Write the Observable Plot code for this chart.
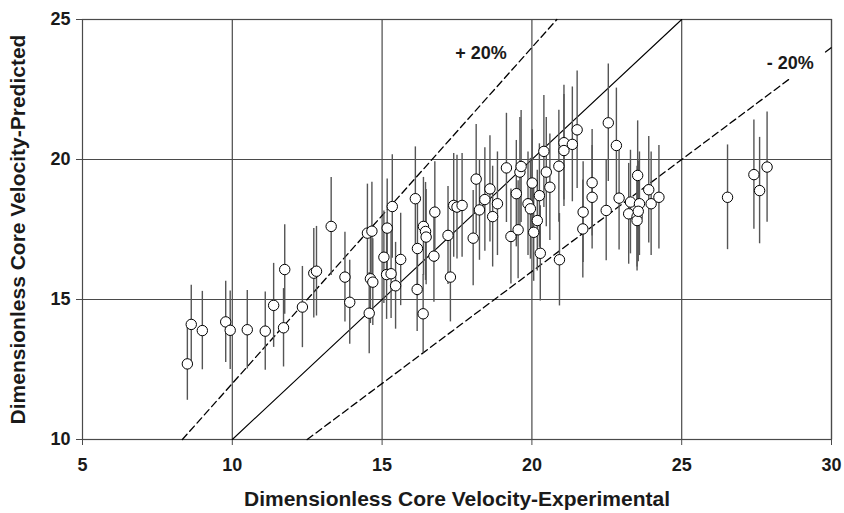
<!DOCTYPE html>
<html>
<head>
<meta charset="utf-8">
<script src="https://cdn.jsdelivr.net/npm/d3@7"></script>
<script src="https://cdn.jsdelivr.net/npm/@observablehq/plot@0.6"></script>
<style>
  html, body { margin: 0; padding: 0; background: #fff; }
  #chart svg { display: block; }
</style>
</head>
<body>
<div id="chart"></div>
<script>
// Experimental (x) and predicted (y) dimensionless core velocity, with error bar half-lengths
const expX = [8.50, 8.63, 9.00, 9.78, 9.93, 10.50, 11.10, 11.38, 11.75, 11.71, 12.34, 12.72, 12.81, 13.30, 13.76, 13.92,
  14.51, 14.66, 14.61, 14.69, 14.57, 15.17, 15.06, 15.15, 15.30, 15.34, 15.45, 15.62, 16.11, 16.18, 16.17, 16.37,
  16.38, 16.45, 16.47, 16.76, 16.73, 17.28, 17.20, 17.39, 17.50, 17.67, 18.04, 18.14, 18.25, 18.43, 18.60, 18.69,
  18.85, 19.15, 19.30, 19.48, 19.54, 19.60, 19.64, 19.87, 19.95, 20.01, 20.06, 20.25, 20.18, 20.28, 20.40, 20.48,
  20.60, 20.90, 20.92, 21.07, 21.07, 21.35, 21.51, 21.71, 21.70, 22.01, 22.01, 22.48, 22.55, 22.82, 22.91, 23.23,
  23.29, 23.51, 23.51, 23.53, 23.90, 23.59, 23.98, 24.24, 23.55, 26.53, 27.41, 27.60, 27.85];
const predY = [12.70, 14.11, 13.89, 14.20, 13.90, 13.92, 13.87, 14.79, 16.07, 13.99, 14.73, 15.94, 16.01, 17.61, 15.80, 14.90,
  17.37, 17.44, 15.74, 15.62, 14.51, 17.55, 16.51, 15.89, 15.92, 18.32, 15.49, 16.43, 18.60, 16.82, 15.36, 14.49,
  17.61, 17.43, 17.23, 18.12, 16.55, 15.80, 17.29, 18.36, 18.30, 18.36, 17.19, 19.30, 18.20, 18.57, 18.95, 17.96,
  18.42, 19.70, 17.25, 18.78, 17.49, 19.55, 19.75, 18.42, 18.24, 19.16, 17.40, 18.71, 17.82, 16.65, 20.29, 19.55,
  19.01, 19.76, 16.42, 20.60, 20.32, 20.54, 21.06, 18.12, 17.52, 19.17, 18.65, 18.18, 21.31, 20.50, 18.62, 18.06,
  18.48, 17.96, 17.82, 19.43, 18.92, 18.42, 18.42, 18.65, 18.15, 18.65, 19.46, 18.89, 19.73];
const errY = [1.30, 1.40, 1.40, 1.45, 1.40, 1.40, 1.40, 1.50, 1.60, 1.40, 1.45, 1.60, 1.60, 1.75, 1.60, 1.50,
  1.75, 1.75, 1.60, 1.55, 1.45, 1.75, 1.65, 1.60, 1.60, 1.85, 1.55, 1.65, 1.85, 1.70, 1.50, 1.40,
  1.75, 1.75, 1.70, 1.80, 1.65, 1.60, 1.75, 1.85, 1.85, 1.85, 1.70, 1.95, 1.80, 1.85, 1.90, 1.80,
  1.85, 1.95, 1.70, 1.90, 1.75, 1.95, 2.00, 1.85, 1.80, 1.90, 1.75, 1.85, 1.80, 1.70, 2.00, 1.95,
  1.90, 2.00, 1.65, 2.05, 2.00, 2.05, 2.10, 1.80, 1.75, 1.90, 1.85, 1.80, 2.10, 2.05, 1.85, 1.80,
  1.85, 1.80, 1.80, 1.95, 1.90, 1.85, 1.85, 1.85, 1.80, 1.87, 1.95, 1.90, 1.97];

// Axis ticks
const xTicks = [5, 10, 15, 20, 25, 30];
const yTicks = [10, 15, 20, 25];

// Reference lines: perfect agreement and +/-20 % bands (segment endpoints)
const perfectLine = [{x: 10, y: 10}, {x: 25, y: 25}];
const plus20Line = [{x: 8.333, y: 10}, {x: 20.833, y: 25}];
const minus20LineA = [{x: 12.5, y: 10}, {x: 28.6, y: 22.88}];
const minus20LineB = [{x: 29.8, y: 23.84}, {x: 30, y: 24}];
const bandLabels = [{x: 18.3, y: 23.8, text: "+ 20%"}, {x: 28.62, y: 23.45, text: "- 20%"}];

const pts = expX.map((x, i) => ({x, y: predY[i], lo: predY[i] - errY[i], hi: predY[i] + errY[i]}));

const font = "'Liberation Sans', Arial, Helvetica, sans-serif";
const gridColor = "#4a4a4a";

const chart = Plot.plot({
  width: 844,
  height: 513,
  marginLeft: 82,
  marginRight: 13,
  marginTop: 19,
  marginBottom: 74,
  style: {fontFamily: font, fontSize: "18px", fontWeight: "bold", color: "#1a1a1a", background: "#fff"},
  x: {domain: [5, 30]},
  y: {domain: [10, 25]},
  marks: [
    Plot.gridX(xTicks.slice(1), {stroke: gridColor, strokeOpacity: 1, strokeWidth: 1.2}),
    Plot.gridY(yTicks.slice(1), {stroke: gridColor, strokeOpacity: 1, strokeWidth: 1.2}),
    Plot.frame({stroke: gridColor, strokeWidth: 1.2}),
    Plot.axisX(xTicks, {tickSize: 6, tickPadding: 13, label: null, fontSize: 18, fontWeight: "bold", stroke: gridColor}),
    Plot.axisY(yTicks, {tickSize: 6, tickPadding: 6, label: null, fontSize: 18, fontWeight: "bold", stroke: gridColor}),
    Plot.line(perfectLine, {x: "x", y: "y", stroke: "#000", strokeWidth: 1.1}),
    Plot.line(plus20Line, {x: "x", y: "y", stroke: "#000", strokeWidth: 1.3, strokeDasharray: "7,4"}),
    Plot.line(minus20LineA, {x: "x", y: "y", stroke: "#000", strokeWidth: 1.3, strokeDasharray: "7,4"}),
    Plot.line(minus20LineB, {x: "x", y: "y", stroke: "#000", strokeWidth: 1.3, strokeDasharray: "7,4"}),
    Plot.ruleX(pts, {x: "x", y1: "lo", y2: "hi", stroke: "#555", strokeWidth: 1.4}),
    Plot.dot(pts, {x: "x", y: "y", r: 5.2, fill: "#fff", stroke: "#000", strokeWidth: 1}),
    Plot.text(bandLabels, {x: "x", y: "y", text: "text", fontSize: 18, fontWeight: "bold", fill: "#1a1a1a"}),
    Plot.text(["Dimensionless Core Velocity-Experimental"], {frameAnchor: "bottom", dy: 59.5, lineAnchor: "middle", textAnchor: "middle", fontSize: 21, fontWeight: "bold", fill: "#1a1a1a"}),
    Plot.text(["Dimensionless Core Velocity-Predicted"], {frameAnchor: "left", dx: -64, rotate: -90, lineAnchor: "middle", textAnchor: "middle", fontSize: 21, fontWeight: "bold", fill: "#1a1a1a"})
  ]
});
document.getElementById("chart").appendChild(chart);
</script>
</body>
</html>
